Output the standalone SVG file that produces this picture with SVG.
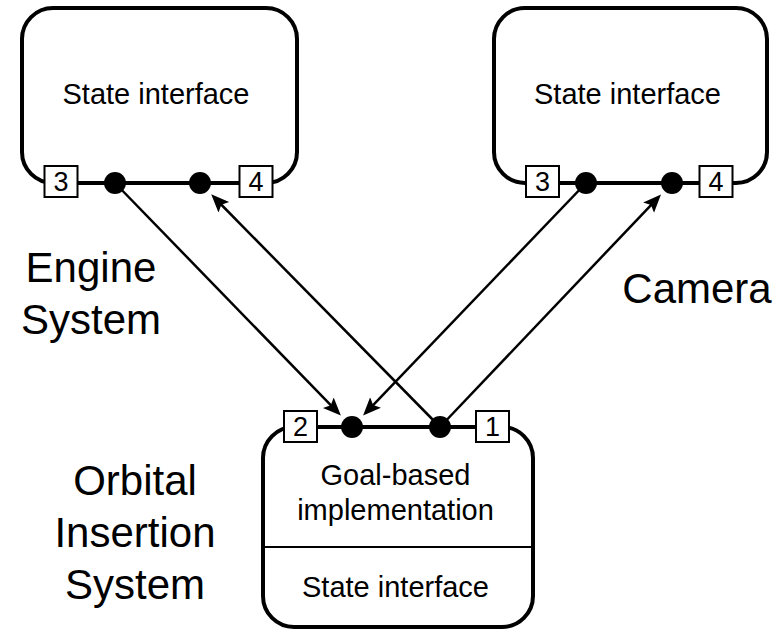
<svg xmlns="http://www.w3.org/2000/svg" width="782" height="637" viewBox="0 0 782 637">
  <style>
    .frame { fill: none; stroke: #000; stroke-width: 4; }
    .divider { stroke: #000; stroke-width: 2; }
    .port { fill: #fff; stroke: #000; stroke-width: 2; }
    .dot { fill: #000; }
    .txt { font-family: "Liberation Sans", Arial, Helvetica, sans-serif; fill: #000; text-anchor: middle; }
    .body { font-size: 29px; }
    .num { font-size: 27px; }
    .big { font-size: 42px; }
    .wire { stroke: #000; stroke-width: 2.5; fill: none; marker-end: url(#arrow); }
  </style>
  <defs>
    <marker id="arrow" markerUnits="userSpaceOnUse" markerWidth="22" markerHeight="18" viewBox="0 -9 22 18" refX="8" refY="0" orient="auto">
      <path d="M0,-7.5 L18,0 L0,7.5 L3.5,0 z" fill="#000"/>
    </marker>
  </defs>

  <rect width="782" height="637" fill="#fff"/>

  <!-- Engine system -->
  <g id="engine">
    <rect class="frame" x="22" y="8" width="275" height="175" rx="31"/>
    <text class="txt body" x="156" y="104">State interface</text>
    <rect class="port" x="44.5" y="166" width="33" height="31"/>
    <text class="txt num" x="61" y="191">3</text>
    <rect class="port" x="239.5" y="166" width="33" height="31"/>
    <text class="txt num" x="256" y="191">4</text>
    <circle class="dot" cx="115" cy="183" r="11"/>
    <circle class="dot" cx="200" cy="183" r="11"/>
  </g>

  <!-- Camera -->
  <g id="camera">
    <rect class="frame" x="494" y="8" width="273" height="175" rx="31"/>
    <text class="txt body" x="627.5" y="104">State interface</text>
    <rect class="port" x="526" y="166" width="33" height="31"/>
    <text class="txt num" x="542.5" y="191">3</text>
    <rect class="port" x="699.5" y="166" width="33" height="31"/>
    <text class="txt num" x="716" y="191">4</text>
    <circle class="dot" cx="586" cy="183" r="11"/>
    <circle class="dot" cx="672" cy="183" r="11"/>
  </g>

  <!-- Orbital insertion system -->
  <g id="orbital">
    <rect class="frame" x="263" y="427" width="270" height="200" rx="31"/>
    <line class="divider" x1="263" y1="547" x2="533" y2="547"/>
    <text class="txt body" x="395.5" y="485">Goal-based</text>
    <text class="txt body" x="395.5" y="520">implementation</text>
    <text class="txt body" x="395.5" y="597">State interface</text>
    <rect class="port" x="284" y="411" width="33" height="31"/>
    <text class="txt num" x="300.5" y="436">2</text>
    <rect class="port" x="476" y="411" width="33" height="31"/>
    <text class="txt num" x="492.5" y="436">1</text>
    <circle class="dot" cx="352" cy="427" r="11"/>
    <circle class="dot" cx="440" cy="427" r="11"/>
  </g>

  <!-- Subsystem labels -->
  <g id="labels">
    <text class="txt big" x="91" y="282">Engine</text>
    <text class="txt big" x="91" y="334">System</text>
    <text class="txt big" x="697" y="303">Camera</text>
    <text class="txt big" x="135" y="495">Orbital</text>
    <text class="txt big" x="135" y="547">Insertion</text>
    <text class="txt big" x="135" y="599">System</text>
  </g>

  <!-- Connectors: line ends sit 10px short of each arrow tip -->
  <g id="connectors">
    <line class="wire" x1="115" y1="183" x2="333.9" y2="408.4"/>
    <line class="wire" x1="440" y1="427" x2="218.2" y2="201.5"/>
    <line class="wire" x1="586" y1="183" x2="370.0" y2="408.3"/>
    <line class="wire" x1="440" y1="427" x2="654.1" y2="201.8"/>
  </g>
</svg>
